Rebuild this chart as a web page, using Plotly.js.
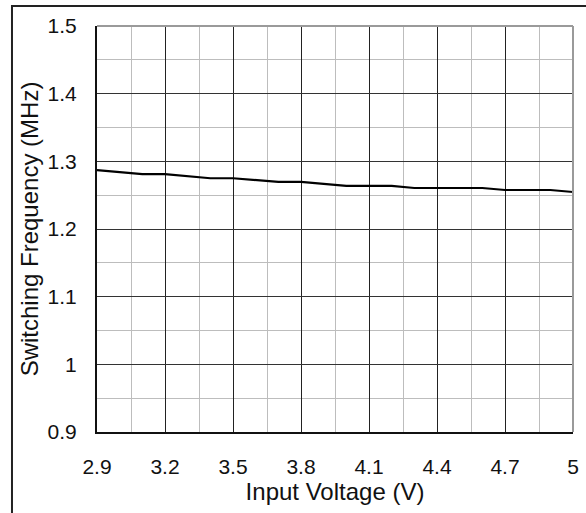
<!DOCTYPE html>
<html><head><meta charset="utf-8">
<script src="https://cdn.plot.ly/plotly-3.0.1.min.js"></script>
<style>html,body{margin:0;padding:0;background:#fff}</style>
</head><body>
<div id="chart" style="width:586px;height:513px"></div>
<script>
const inputVoltage = [2.9, 3.1, 3.2, 3.4, 3.5, 3.7, 3.8, 4.0, 4.2, 4.3, 4.6, 4.7, 4.9, 5.0];
const switchingFrequency = [1.287, 1.281, 1.281, 1.275, 1.275, 1.2695, 1.2695, 1.2636, 1.2636, 1.2606, 1.2606, 1.2576, 1.2576, 1.2547];
const xTickVals = [2.9, 3.2, 3.5, 3.8, 4.1, 4.4, 4.7, 5.0];
const xTickText = ["2.9", "3.2", "3.5", "3.8", "4.1", "4.4", "4.7", "5"];
const yTickVals = [0.9, 1.0, 1.1, 1.2, 1.3, 1.4, 1.5];
const yTickText = ["0.9", "1", "1.1", "1.2", "1.3", "1.4", "1.5"];
const xTitle = "Input Voltage (V)";
const yTitle = "Switching Frequency (MHz)";

const FONT = "Liberation Sans, Arial, Helvetica, sans-serif";

const trace = {
  x: inputVoltage, y: switchingFrequency, type: 'scatter', mode: 'lines',
  line: {color: '#000', width: 2.2}, hoverinfo: 'skip', showlegend: false
};

const layout = {
  width: 586, height: 513,
  margin: {l: 97, r: 13, t: 26, b: 81, pad: 0},
  paper_bgcolor: '#fff', plot_bgcolor: '#fff',
  font: {family: FONT, color: '#111', size: 20},
  showlegend: false,
  xaxis: {
    range: [2.9, 5.0], tickmode: 'array', tickvals: xTickVals, ticktext: xTickText,
    showgrid: true, gridcolor: '#222', gridwidth: 1,
    minor: {tickmode: 'linear', tick0: 2.9, dtick: 0.15, showgrid: true, gridcolor: '#bdbdbd', gridwidth: 1},
    showline: true, linecolor: '#111', linewidth: 2, mirror: false,
    ticks: '', ticklabelstandoff: 15, tickfont: {size: 21, family: FONT, color: '#111'},
    zeroline: false, automargin: false, fixedrange: true,
    title: {text: xTitle, font: {size: 24, family: FONT, color: '#111'}, standoff: 5}
  },
  yaxis: {
    range: [0.9, 1.5], tickmode: 'array', tickvals: yTickVals, ticktext: yTickText,
    showgrid: true, gridcolor: '#333', gridwidth: 1,
    minor: {tickmode: 'linear', tick0: 0.9, dtick: 0.05, showgrid: true, gridcolor: '#bdbdbd', gridwidth: 1},
    showline: true, linecolor: '#111', linewidth: 2, mirror: false,
    ticks: '', ticklabelstandoff: 14, tickfont: {size: 21, family: FONT, color: '#111'},
    zeroline: false, automargin: false, fixedrange: true,
    title: {text: yTitle, font: {size: 24, family: FONT, color: '#111'}, standoff: 2}
  },
  shapes: [
    {type: 'line', xref: 'paper', yref: 'paper', x0: 0, x1: 1, y0: 1, y1: 1, line: {color: '#9a9a9a', width: 2}},
    {type: 'line', xref: 'paper', yref: 'paper', x0: 1, x1: 1, y0: 0, y1: 1, line: {color: '#9a9a9a', width: 2}},
    {type: 'rect', xref: 'paper', yref: 'paper', x0: -0.1786, x1: 1.3, y0: -0.5, y1: 1.0493, line: {color: '#222', width: 2}}
  ]
};

Plotly.newPlot('chart', [trace], layout, {staticPlot: true, displayModeBar: false});
</script>
</body></html>
